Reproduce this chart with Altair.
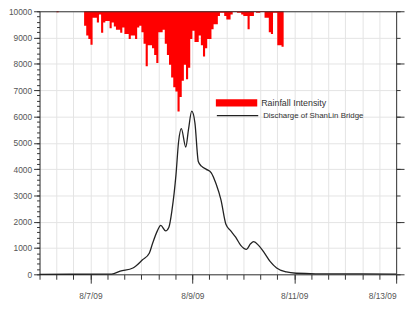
import altair as alt
import pandas as pd

# ---------------- data ----------------
rain_start = "2009-08-06T21:00:00"
rain_values = [5.5, 9.2, 10.5, 12.7, 2.5, 2.5, 4.3, 1.2, 8.2, 4.3,
               3.7, 3.7, 6.5, 4.3, 5.8, 7.0, 7.0, 8.2, 6.2, 8.6,
               8.6, 10.5, 9.2, 9.2, 10.5, 6.2, 5.5, 8.0, 12.3, 20.9,
               12.9, 12.9, 14.1, 16.6, 19.7, 8.0, 8.0, 7.0, 12.3, 16.6,
               20.3, 25.2, 28.9, 30.5, 38.1, 32.6, 26.4, 20.3, 25.8, 21.5,
               10.5, 7.4, 11.7, 11.7, 9.2, 12.9, 17.2, 14.1, 10.5, 10.5,
               6.8, 4.9, 4.9, 1.8, 0.6, 0.6, 1.8, 3.1, 3.1, 1.2,
               0.3, 0.3, 0.6, 0.6, 1.2, 1.8, 1.8, 6.8, 1.8, 1.8,
               0.3, 0.6, 0.6, 0.3, 0.3, 2.5, 2.5, 8.0, 8.6, 0.6,
               0.6, 12.9, 12.9, 13.5]
extra_rain_times = ["2009-08-06T08:00:00"]
extra_rain_values = [0.4]

discharge_hours = [0, 34, 38, 44, 48.5, 51.7, 53.2, 55.5, 57.1, 59.4,
                   60.9, 62.4, 64.3, 65.5, 66.8, 68.9, 70.2, 71.7, 73.2, 74.8,
                   76.3, 78.6, 80.9, 83.2, 85.5, 87.8, 90.1, 92.4, 94.8, 97.5,
                   99.4, 100.9, 103.2, 105.6, 108.6, 111.7, 116.3, 120.9, 130, 168]
discharge_values = [0, 10, 120, 240, 550, 800, 1160, 1650, 1860, 1650,
                    1780, 2440, 3800, 5030, 5540, 4840, 5520, 6200, 5760, 4290,
                    4110, 3990, 3860, 3430, 2820, 1900, 1650, 1410, 1100, 950,
                    1160, 1240, 1100, 850, 490, 240, 90, 40, 20, 10]

rain_label = "Rainfall Intensity"
q_label = "Discharge of ShanLin Bridge"

# ---------------- frames ----------------
# hourly rainfall as a stepped area (each value holds for one hour)
times, vals = [], []
for t, v in zip(extra_rain_times, extra_rain_values):
    times += [pd.Timestamp(t), pd.Timestamp(t) + pd.Timedelta(hours=1)]
    vals += [v, 0.0]
t0 = pd.Timestamp(rain_start)
for i, v in enumerate(rain_values):
    times.append(t0 + pd.Timedelta(hours=i))
    vals.append(v)
times.append(t0 + pd.Timedelta(hours=len(rain_values)))
vals.append(0.0)
rain_df = pd.DataFrame({"t": times, "rain": vals})
rain_df["series"] = rain_label

base = pd.Timestamp("2009-08-06")
q_df = pd.DataFrame({
    "t": [base + pd.Timedelta(hours=h) for h in discharge_hours],
    "q": discharge_values,
})
q_df["series"] = q_label

# ---------------- scales / axes ----------------
xscale = alt.Scale(domain=[alt.DateTime(year=2009, month=8, date=6),
                           alt.DateTime(year=2009, month=8, date=13)])
major_x = [alt.DateTime(year=2009, month=8, date=d) for d in (7, 9, 11, 13)]
minor_x = [alt.DateTime(year=2009, month=8, date=6 + h // 24, hours=h % 24)
           for h in range(0, 169, 8)]

FONT = "Liberation Sans"
AX = "#333333"
GRID = "#e4e4e4"

rain_scale = alt.Scale(domain=[0, 100], reverse=True, nice=False, zero=False)
q_scale = alt.Scale(domain=[0, 10000], nice=False)

bars = alt.Chart(rain_df).mark_area(interpolate="step-after").encode(
    x=alt.X("t:T", scale=xscale,
            axis=alt.Axis(orient="bottom", values=minor_x, labels=False, tickSize=5,
                          grid=True, gridColor=GRID, domain=False, title=None,
                          tickColor=AX)),
    y=alt.Y("rain:Q", scale=rain_scale,
            axis=alt.Axis(orient="right", values=list(range(0, 101, 20)), labels=False,
                          tickSize=8, grid=False, title=None, domainColor=AX,
                          tickColor=AX)),
    y2=alt.datum(0),
    color=alt.Color("series:N",
                    scale=alt.Scale(domain=[rain_label], range=["#ff0000"]),
                    legend=alt.Legend(orient="none", legendX=179, legendY=72, title=None,
                                      symbolType="M-1,-0.17H1V0.17H-1Z", symbolSize=1764,
                                      symbolStrokeWidth=0, labelFontSize=9, labelFont=FONT,
                                      labelColor="#333", padding=0, labelOffset=4)),
)

rain_minor = alt.Chart(rain_df).mark_line(opacity=0).encode(
    x=alt.X("t:T", scale=xscale, axis=None),
    y=alt.Y("rain:Q", scale=rain_scale,
            axis=alt.Axis(orient="right", values=list(range(0, 101, 10)), labels=False,
                          tickSize=4, grid=False, domain=False, title=None, tickColor=AX)),
)

line = alt.Chart(q_df).mark_line(strokeWidth=1.3, interpolate="monotone").encode(
    x=alt.X("t:T", scale=xscale,
            axis=alt.Axis(orient="bottom", values=major_x, format="%-m/%-d/%y",
                          tickSize=9, labelPadding=9, grid=False, title=None,
                          domainColor=AX, tickColor=AX)),
    y=alt.Y("q:Q", scale=q_scale,
            axis=alt.Axis(orient="left", values=list(range(0, 10001, 1000)), format="d",
                          tickSize=6, labelPadding=2, grid=True, gridColor=GRID,
                          title=None, domainColor=AX, tickColor=AX)),
    stroke=alt.Stroke("series:N",
                      scale=alt.Scale(domain=[q_label], range=["#222222"]),
                      legend=alt.Legend(orient="none", legendX=179, legendY=84, title=None,
                                        symbolType="stroke", symbolSize=1764,
                                        symbolStrokeWidth=1.3, labelFontSize=8,
                                        labelFont=FONT, labelColor="#333", padding=0,
                                        labelOffset=4)),
)

q_minor = alt.Chart(q_df).mark_line(opacity=0).encode(
    x=alt.X("t:T", scale=xscale,
            axis=alt.Axis(orient="top", labels=False, ticks=False, grid=False,
                          domain=True, domainColor=AX, title=None, zindex=2)),
    y=alt.Y("q:Q", scale=q_scale,
            axis=alt.Axis(orient="left", values=list(range(0, 10001, 200)), labels=False,
                          tickSize=3, grid=False, domain=False, title=None, tickColor=AX)),
)

chart = alt.layer(bars, rain_minor, line, q_minor).resolve_scale(
    y="independent"
).resolve_axis(
    x="independent", y="independent"
).properties(
    width=362, height=267,
    padding={"left": 32, "top": 1, "right": 10, "bottom": 40},
    autosize=alt.AutoSizeParams(type="none"),
).configure_view(
    strokeWidth=0
).configure_axis(
    labelFont=FONT, labelFontSize=8.5, labelColor="#555555"
)

chart.save("out.html", embed_options={"renderer": "svg", "actions": False})
